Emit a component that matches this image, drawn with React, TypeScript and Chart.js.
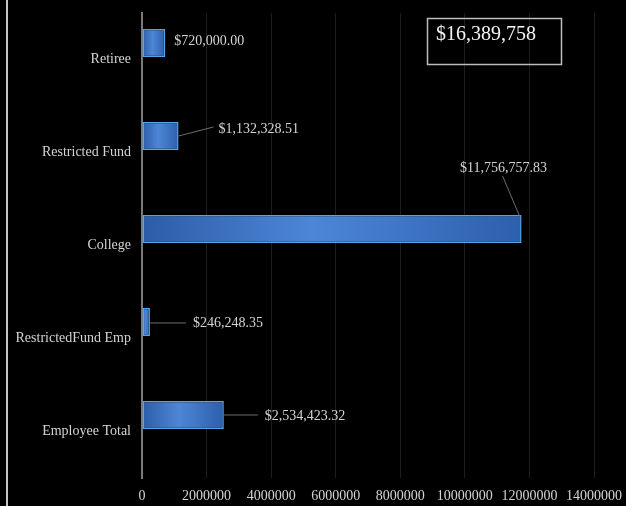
import React, { useEffect, useRef } from "react";
import { Chart, registerables } from "chart.js";

Chart.register(...registerables);

const categories = ["Retiree", "Restricted Fund", "College", "RestrictedFund Emp", "Employee Total"];
const amounts = [720000.0, 1132328.51, 11756757.83, 246248.35, 2534423.32];
const emptySeries = [null, null, null, null, null];
const xTicks = [0, 2000000, 4000000, 6000000, 8000000, 10000000, 12000000, 14000000];

const FONT = '"Liberation Serif", "DejaVu Serif", serif';
const TEXT = "#d4d4d4";

const money = (v: number) =>
  "$" + v.toLocaleString("en-US", { minimumFractionDigits: 2, maximumFractionDigits: 2 });

// label nudges relative to each bar's end (style only)
const labelStyle = [
  { lx: 9, ly: -2, align: "left", lead: null },
  { lx: 40, ly: -7, align: "left", lead: [0, 0, 35, -9] },
  { lx: -18, ly: -61, align: "center", lead: [-19, -53, -2, -13] },
  { lx: 43, ly: 1, align: "left", lead: [0, 1, 36, 1] },
  { lx: 41, ly: 1, align: "left", lead: [0, 0, 34, 0] },
];

const labelsPlugin = {
  id: "valueLabels",
  afterDatasetsDraw(chart: any) {
    const ctx = chart.ctx;
    const meta = chart.getDatasetMeta(0);
    ctx.save();
    meta.data.forEach((bar: any, i: number) => {
      const s = labelStyle[i];
      const ex = bar.x;
      const ey = bar.y;
      if (s.lead) {
        ctx.strokeStyle = "#6e6e6e";
        ctx.lineWidth = 1;
        ctx.beginPath();
        ctx.moveTo(ex + s.lead[0], ey + s.lead[1]);
        ctx.lineTo(ex + s.lead[2], ey + s.lead[3]);
        ctx.stroke();
      }
      ctx.font = `14px ${FONT}`;
      ctx.fillStyle = TEXT;
      ctx.textAlign = s.align;
      ctx.textBaseline = "middle";
      ctx.fillText(money(amounts[i]), ex + s.lx, ey + s.ly);
    });
    // total box
    const total = amounts.reduce((a, b) => a + b, 0);
    const totalText = "$" + Math.round(total).toLocaleString("en-US");
    ctx.strokeStyle = "#bdbdbd";
    ctx.lineWidth = 1.5;
    ctx.strokeRect(427.5, 18.5, 134, 46);
    ctx.font = `20px ${FONT}`;
    ctx.fillStyle = "#f4f4f4";
    ctx.textAlign = "left";
    ctx.textBaseline = "middle";
    ctx.fillText(totalText, 436, 35);
    ctx.restore();
  },
};

export default function App() {
  const ref = useRef<HTMLCanvasElement>(null);

  useEffect(() => {
    if (!ref.current) return;
    const chart = new Chart(ref.current, {
      type: "bar",
      data: {
        labels: categories,
        datasets: [
          {
            label: "Amount",
            data: amounts,
            backgroundColor: (c: any) => {
              const ch = c.chart;
              if (!ch.chartArea || !ch.scales.x || c.raw == null) return "#3b70c2";
              const x = ch.scales.x;
              const x0 = x.getPixelForValue(0);
              const x1 = x.getPixelForValue(c.raw);
              if (!isFinite(x0) || !isFinite(x1) || x1 - x0 < 1) return "#3b70c2";
              const g = ch.ctx.createLinearGradient(x0, 0, x1, 0);
              g.addColorStop(0, "#2c5ca8");
              g.addColorStop(0.45, "#4d86d6");
              g.addColorStop(1, "#2c5fad");
              return g;
            },
            borderColor: "#4fa6ec",
            borderWidth: 1.5,
            borderSkipped: false,
            categoryPercentage: 0.71,
            barPercentage: 0.85,
          },
          {
            label: "",
            data: emptySeries,
            backgroundColor: "transparent",
            categoryPercentage: 0.71,
            barPercentage: 0.85,
          },
        ],
      },
      options: {
        indexAxis: "y",
        animation: false,
        responsive: false,
        layout: { padding: { top: 13, right: 32, left: 0, bottom: 0 } },
        plugins: {
          legend: { display: false },
          tooltip: { enabled: false },
          title: { display: false },
        },
        scales: {
          x: {
            type: "linear",
            min: 0,
            max: 14000000,
            afterBuildTicks: (s: any) => {
              s.ticks = xTicks.map((v) => ({ value: v }));
            },
            afterFit: (s: any) => {
              s.height = 28;
              s.paddingLeft = 0;
              s.paddingRight = 0;
            },
            ticks: {
              color: TEXT,
              font: { family: FONT, size: 14 },
              padding: 10,
              maxRotation: 0,
              autoSkip: false,
              callback: (v: any) => String(v),
            },
            grid: { color: "#1e1e1e", lineWidth: 1, drawTicks: false },
            border: { display: false },
          },
          y: {
            type: "category",
            afterFit: (s: any) => {
              s.width = 142;
              s.paddingTop = 0;
              s.paddingBottom = 0;
            },
            ticks: {
              color: TEXT,
              font: { family: FONT, size: 14 },
              padding: 11,
            },
            grid: { display: false, drawTicks: false },
            border: { display: true, color: "#7a7a7a", width: 2 },
          },
        },
      },
      plugins: [labelsPlugin],
    } as any);
    return () => chart.destroy();
  }, []);

  return (
    <div
      style={{
        position: "absolute",
        left: 0,
        top: 0,
        width: 626,
        height: 506,
        background: "#000",
        overflow: "hidden",
      }}
    >
      <div
        style={{ position: "absolute", left: 6, top: 0, width: 2, height: 506, background: "#c4c4c4" }}
      />
      <canvas ref={ref} width={626} height={506} style={{ position: "absolute", left: 0, top: 0 }} />
    </div>
  );
}
